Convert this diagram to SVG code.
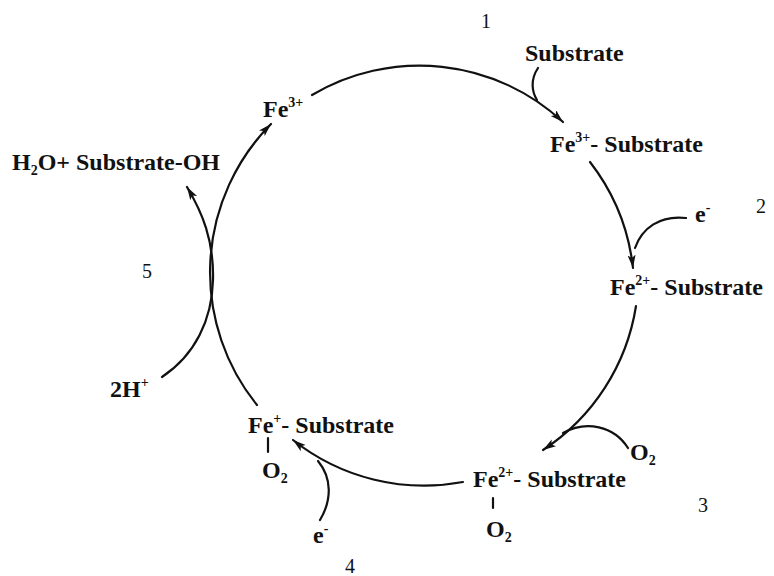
<svg xmlns="http://www.w3.org/2000/svg" width="774" height="576" viewBox="0 0 774 576">
<style>
.t{font-family:"Liberation Serif","Times New Roman",serif;font-size:24px;font-weight:bold;fill:#111}
.n{font-family:"Liberation Serif","Times New Roman",serif;font-size:20px;fill:#111}
.sup{font-size:14px}
.c{fill:none;stroke:#111;stroke-width:2.2;stroke-linecap:round}
</style>
<defs>
<marker id="ah" markerUnits="userSpaceOnUse" markerWidth="14" markerHeight="10" refX="13" refY="4" orient="auto">
<path d="M0,0 L13,4 L0,8 L3,4 z" fill="#111"/>
</marker>
</defs>
<rect width="774" height="576" fill="#fff"/>
<g id="connectors">
<path class="c" d="M312,95 A211,211 0 0 1 563,122" marker-end="url(#ah)"/>
<path class="c" d="M590,162 A211,211 0 0 1 633,268" marker-end="url(#ah)"/>
<path class="c" d="M636,306 A211,211 0 0 1 543,450" marker-end="url(#ah)"/>
<path class="c" d="M463,482 A211,211 0 0 1 293,440" marker-end="url(#ah)"/>
<path class="c" d="M257,405 A211,211 0 0 1 271,124" marker-end="url(#ah)"/>
<path class="c" d="M538,68 C530,80 532,92 537,100"/>
<path class="c" d="M686,218 C660,215 642,228 635,248"/>
<path class="c" d="M628,448 C614,426 586,420 563,433"/>
<path class="c" d="M320,520 C332,500 332,478 318,461"/>
<path class="c" d="M162,377 C195,355 212,320 213,280 C214,240 202,212 187,187" marker-end="url(#ah)"/>
<path class="c" d="M493,498 L493,508" stroke-width="2"/>
<path class="c" d="M268,438 L268,452" stroke-width="2"/>
</g>
<g id="step1"><text class="n" x="481" y="28">1</text></g>
<g id="step2"><text class="n" x="756" y="213">2</text></g>
<g id="step3"><text class="n" x="698" y="512">3</text></g>
<g id="step4"><text class="n" x="345" y="573">4</text></g>
<g id="step5"><text class="n" x="142" y="278">5</text></g>
<g id="substrate-in"><text class="t" x="525" y="61">Substrate</text></g>
<g id="fe3"><text class="t" x="263" y="117">Fe<tspan class="sup" dy="-10">3+</tspan></text></g>
<g id="fe3-sub"><text class="t" x="550" y="152">Fe<tspan class="sup" dy="-10">3+</tspan><tspan dy="10">- Substrate</tspan></text></g>
<g id="e-2"><text class="t" x="695" y="222">e<tspan class="sup" dy="-10">-</tspan></text></g>
<g id="fe2-sub"><text class="t" x="610" y="295">Fe<tspan class="sup" dy="-10">2+</tspan><tspan dy="10">- Substrate</tspan></text></g>
<g id="o2-in"><text class="t" x="630" y="460">O<tspan class="sup" dy="5">2</tspan></text></g>
<g id="fe2-o2-sub"><text class="t" x="473" y="487">Fe<tspan class="sup" dy="-10">2+</tspan><tspan dy="10">- Substrate</tspan></text>
<text class="t" x="486" y="537">O<tspan class="sup" dy="5">2</tspan></text></g>
<g id="e-4"><text class="t" x="313" y="543">e<tspan class="sup" dy="-10">-</tspan></text></g>
<g id="fe-o2-sub"><text class="t" x="248" y="433">Fe<tspan class="sup" dy="-10">+</tspan><tspan dy="10">- Substrate</tspan></text>
<text class="t" x="262" y="478">O<tspan class="sup" dy="5">2</tspan></text></g>
<g id="h-in"><text class="t" x="110" y="397">2H<tspan class="sup" dy="-10">+</tspan></text></g>
<g id="product"><text class="t" x="12" y="170">H<tspan class="sup" dy="5">2</tspan><tspan dy="-5">O+ Substrate-OH</tspan></text></g>
</svg>
